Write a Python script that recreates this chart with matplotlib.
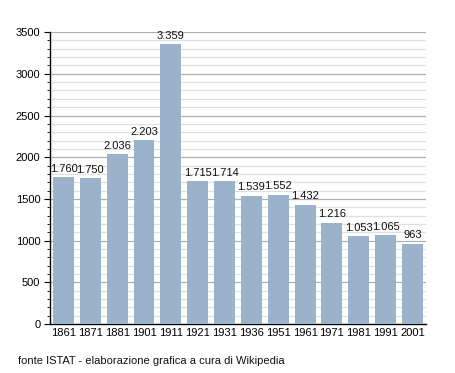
import matplotlib
matplotlib.use("Agg")
import matplotlib.pyplot as plt
from matplotlib.ticker import MultipleLocator

years = ["1861", "1871", "1881", "1901", "1911", "1921", "1931", "1936", "1951", "1961", "1971", "1981", "1991", "2001"]
population = [1760, 1750, 2036, 2203, 3359, 1715, 1714, 1539, 1552, 1432, 1216, 1053, 1065, 963]
labels = ["1.760", "1.750", "2.036", "2.203", "3.359", "1.715", "1.714", "1.539", "1.552", "1.432", "1.216", "1.053", "1.065", "963"]

plt.rcParams['font.family'] = ['Liberation Sans', 'DejaVu Sans']

fig = plt.figure(figsize=(4.55, 3.73), dpi=100)
ax = fig.add_axes([0.110, 0.131, 0.826, 0.783])

x = range(len(years))
ax.bar(x, population, width=0.78, color="#9bb2cb", zorder=3)
for xi, v, lab in zip(x, population, labels):
    ax.text(xi, v + 40, lab, ha="center", va="bottom", fontsize=8, color="#111111", zorder=4)

ax.set_xlim(-0.5, len(years) - 0.5)
ax.set_ylim(0, 3500)
ax.set_xticks(list(x))
ax.set_xticklabels(years)
ax.yaxis.set_major_locator(MultipleLocator(500))
ax.yaxis.set_minor_locator(MultipleLocator(100))
ax.grid(axis="y", which="major", color="#b0b0b0", linewidth=0.9, zorder=1)
ax.grid(axis="y", which="minor", color="#e0e0e0", linewidth=0.9, zorder=0)
for s in ["top", "right"]:
    ax.spines[s].set_visible(False)
ax.spines["left"].set_linewidth(1.0)
ax.spines["bottom"].set_linewidth(1.0)
ax.tick_params(axis="x", length=0, labelsize=8, pad=3)
ax.tick_params(axis="y", which="major", length=4, labelsize=8, pad=3)
ax.tick_params(axis="y", which="minor", length=2)

fig.text(0.040, 0.025, "fonte ISTAT - elaborazione grafica a cura di Wikipedia", fontsize=8, color="#111111")

fig.savefig("out.png", dpi=100)
